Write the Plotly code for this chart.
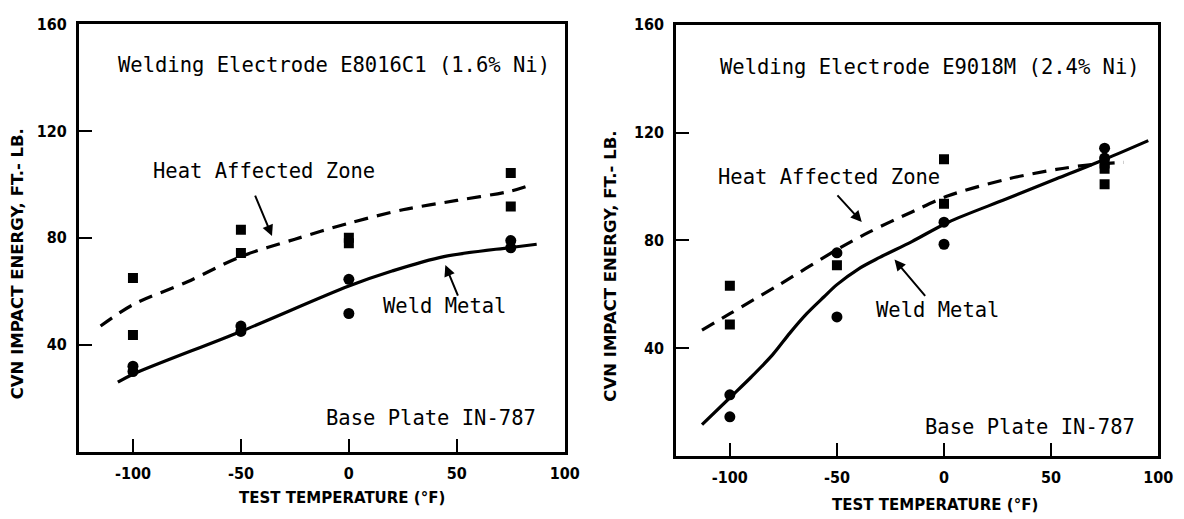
import plotly.graph_objects as go

# ---- data: E8016C1 electrode (left panel) ----
haz1_x = [-100, -100, -50, -50, 0, 0, 75, 75]
haz1_y = [65, 43.7, 83, 74.3, 80, 78, 104.3, 91.7]
wm1_x = [-100, -100, -50, -50, 0, 0, 75, 75]
wm1_y = [32, 30, 47, 45, 64.5, 51.7, 79, 76.3]
haz1_fit_x = [-115, -100, -75, -50, -25, 0, 25, 50, 75, 85]
haz1_fit_y = [47, 55, 63.5, 73, 79.5, 85.5, 90.5, 94, 97.5, 100]
wm1_fit_x = [-107, -100, -50, 0, 20, 44, 75, 87]
wm1_fit_y = [26, 29, 45, 62, 67.6, 73, 76.4, 77.6]

# ---- data: E9018M electrode (right panel) ----
haz2_x = [-100, -100, -50, 0, 0, 75, 75, 75]
haz2_y = [63.1, 48.7, 70.7, 110.1, 93.5, 108.5, 106.5, 100.8]
wm2_x = [-100, -100, -50, -50, 0, 0, 75, 75]
wm2_y = [22.6, 14.4, 75.3, 51.5, 86.7, 78.5, 114.2, 110.5]
haz2_fit_x = [-113, -100, -76.5, -50, -35, -15, 2, 29, 52.5, 69, 84]
haz2_fit_y = [46.6, 52.7, 63.7, 76.5, 83, 90.5, 96.5, 102.6, 106.3, 108.1, 108.9]
wm2_fit_x = [-113, -100, -90, -80, -72, -64, -56, -50, -40, -30, -15, 2, 29, 52.5, 75.5, 95.4]
wm2_fit_y = [11.5, 21.5, 29.2, 37.5, 45.5, 52.8, 59, 63.5, 69.3, 73.6, 79.5, 86.7, 95.3, 102.8, 110.2, 117]

x_ticks = [-100, -50, 0, 50, 100]
x_tick_text = ["-100", "-50", "0", "50", "100"]
y_ticks = [40, 80, 120, 160]
y_tick_text = ["40", "80", "120", "160"]

titles = ["Welding Electrode E8016C1 (1.6% Ni)", "Welding Electrode E9018M (2.4% Ni)"]
x_title = "TEST TEMPERATURE (°F)"
y_title = "CVN IMPACT ENERGY, FT.- LB."

MONO = "DejaVu Sans Mono"
NARROW = "Liberation Sans Narrow, DejaVu Sans Condensed, Arial Narrow, sans-serif"
WIDE = "DejaVu Sans, Verdana, sans-serif"
INK = "black"

fig = go.Figure()

panels = [
    ("x", "y", haz1_x, haz1_y, wm1_x, wm1_y, haz1_fit_x, haz1_fit_y, wm1_fit_x, wm1_fit_y),
    ("x2", "y2", haz2_x, haz2_y, wm2_x, wm2_y, haz2_fit_x, haz2_fit_y, wm2_fit_x, wm2_fit_y),
]
for xa, ya, hx, hy, wx, wy, hfx, hfy, wfx, wfy in panels:
    fig.add_trace(go.Scatter(x=hfx, y=hfy, xaxis=xa, yaxis=ya, mode="lines",
                             line=dict(color=INK, width=3.2, dash="14px,9px", shape="spline", smoothing=0.9),
                             showlegend=False, hoverinfo="skip"))
    fig.add_trace(go.Scatter(x=wfx, y=wfy, xaxis=xa, yaxis=ya, mode="lines",
                             line=dict(color=INK, width=3.2, shape="spline", smoothing=0.9),
                             showlegend=False, hoverinfo="skip"))
    fig.add_trace(go.Scatter(x=hx, y=hy, xaxis=xa, yaxis=ya, mode="markers",
                             marker=dict(symbol="square", size=10, color=INK),
                             showlegend=False))
    fig.add_trace(go.Scatter(x=wx, y=wy, xaxis=xa, yaxis=ya, mode="markers",
                             marker=dict(symbol="circle", size=11, color=INK),
                             showlegend=False))

xaxis_common = dict(range=[-125, 100], tickvals=x_ticks, ticktext=x_tick_text,
                    ticks="inside", ticklen=13, tickwidth=2.2, tickcolor=INK,
                    showline=True, linecolor=INK, linewidth=3, mirror=True,
                    showgrid=False, zeroline=False, ticklabelstandoff=5,
                    tickfont=dict(family=NARROW, size=16, color=INK, weight="bold"))
yaxis_common = dict(range=[0, 160], tickvals=y_ticks, ticktext=y_tick_text,
                    ticks="inside", ticklen=13, tickwidth=2.2, tickcolor=INK,
                    showline=True, linecolor=INK, linewidth=3, mirror=True,
                    showgrid=False, zeroline=False, ticklabelstandoff=6,
                    tickfont=dict(family=NARROW, size=16, color=INK, weight="bold"))

fig.update_layout(
    width=1184, height=519,
    margin=dict(l=0, r=0, t=0, b=0),
    paper_bgcolor="white", plot_bgcolor="white",
    xaxis=dict(domain=[80 / 1184, 572 / 1184], anchor="y", **xaxis_common),
    yaxis=dict(domain=[(519 - 450.5) / 519, (519 - 15.3) / 519], anchor="x", **yaxis_common),
    xaxis2=dict(domain=[685 / 1184, 1173 / 1184], anchor="y2", **xaxis_common),
    yaxis2=dict(domain=[(519 - 454.5) / 519, (519 - 16.1) / 519], anchor="x2", **yaxis_common),
)

def label(text, x, y, xref, yref, anchor="left", size=20.5):
    fig.add_annotation(text=text, x=x, y=y, xref=xref, yref=yref, showarrow=False,
                       xanchor=anchor, yanchor="middle",
                       font=dict(family=MONO, size=size, color=INK))

def pointer(x, y, ax, ay, xref, yref):
    fig.add_annotation(text="", x=x, y=y, ax=ax, ay=ay, xref=xref, yref=yref,
                       axref=xref, ayref=yref, showarrow=True,
                       arrowhead=2, arrowsize=1.1, arrowwidth=2, arrowcolor=INK)

# left panel texts
label(titles[0], -107.8, 144.7, "x", "y")
label("Heat Affected Zone", -91.6, 105, "x", "y")
label("Weld Metal", 15, 54.5, "x", "y")
label("Base Plate IN-787", 87.6, 12.5, "x", "y", anchor="right")
pointer(-35.6, 80.7, -43.7, 96.4, "x", "y")
pointer(44.7, 69.8, 50.8, 57.8, "x", "y")

# right panel texts
label(titles[1], -105.7, 144.5, "x2", "y2")
label("Heat Affected Zone", -106.4, 103.5, "x2", "y2")
label("Weld Metal", -32.8, 54, "x2", "y2")
label("Base Plate IN-787", 90.2, 10.6, "x2", "y2", anchor="right")
pointer(-38.4, 86.8, -50.4, 97.2, "x2", "y2")
pointer(-23.1, 72.8, -8.2, 58.8, "x2", "y2")

# axis titles
for cx, cy in [(346, 498), (947, 505)]:
    fig.add_annotation(text=x_title, x=cx / 1184, y=(519 - cy) / 519, xref="paper", yref="paper",
                       showarrow=False, xanchor="center", yanchor="middle",
                       font=dict(family=WIDE, size=15, color=INK, weight="bold"))
for cx, cy in [(18, 259), (618, 262)]:
    fig.add_annotation(text=y_title, x=cx / 1184, y=(519 - cy) / 519, xref="paper", yref="paper",
                       showarrow=False, xanchor="center", yanchor="middle", textangle=-90,
                       font=dict(family=WIDE, size=16.5, color=INK, weight="bold"))

fig.write_html("out.html")
